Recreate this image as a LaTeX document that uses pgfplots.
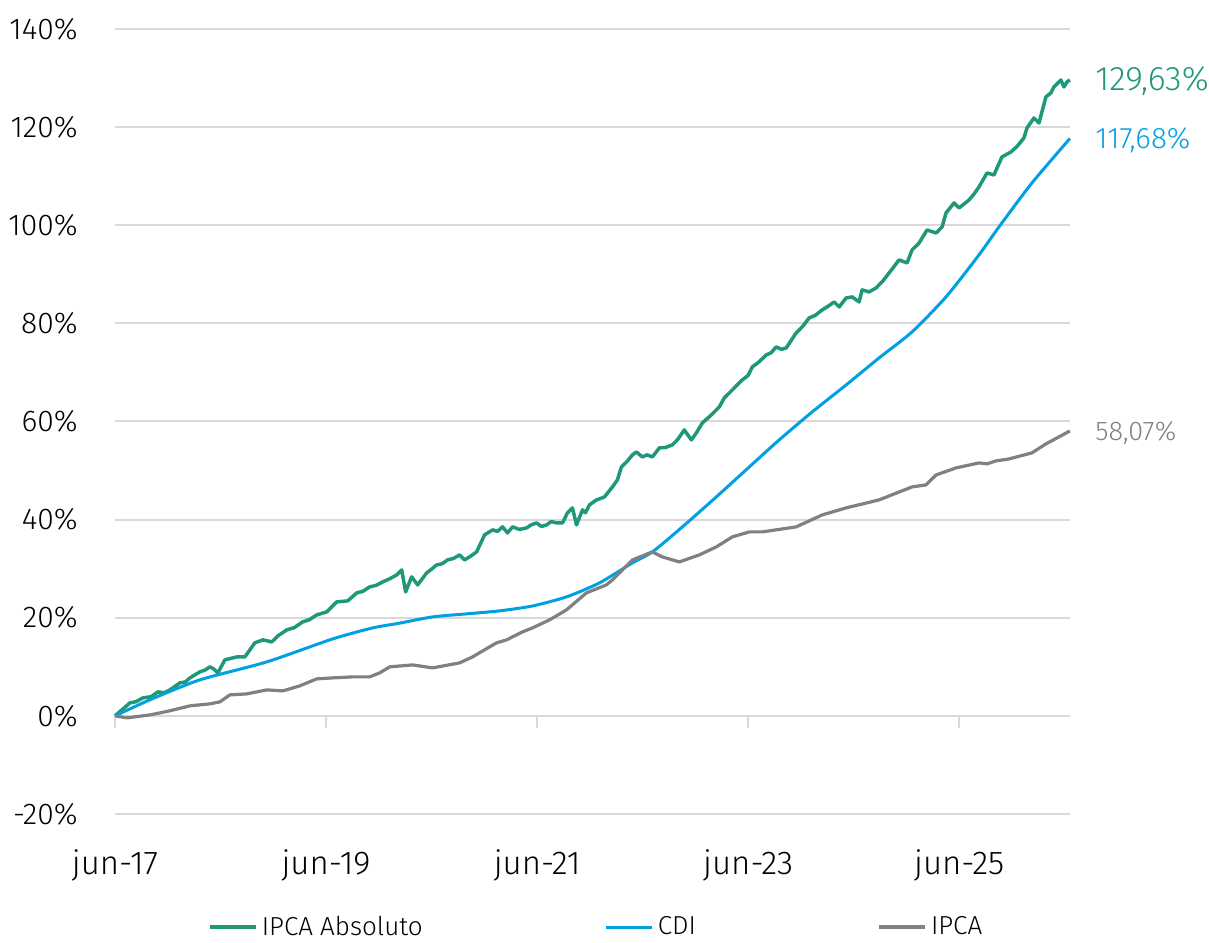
\documentclass[border=0pt]{standalone}
\usepackage{fontspec}
\IfFontExistsTF{Fira Sans Light}{\setmainfont{Fira Sans Light}}{\setmainfont{Fira Sans}}
\usepackage{pgfplots}
\pgfplotsset{compat=1.18}
\definecolor{cgreen}{RGB}{31,152,122}
\definecolor{cblue}{RGB}{0,160,227}
\definecolor{cgray}{RGB}{128,128,128}
\definecolor{cgrid}{RGB}{217,217,217}
\begin{document}
\begin{tikzpicture}
\path[use as bounding box] (-57.5pt,-64pt) rectangle (547pt,407pt);
\begin{axis}[
  at={(0,0)}, anchor=south west,
  scale only axis, width=477.5pt, height=392.5pt,
  xmin=0, xmax=108.6, ymin=-20, ymax=140,
  clip=false,
  axis x line*=middle, axis y line*=left,
  hide obscured x ticks=false,
  x axis line style={draw=none},
  y axis line style={draw=none},
  ytick={-20,0,20,40,60,80,100,120,140},
  xtick={0,24,48,72,96},
  xticklabels={jun-17,jun-19,jun-21,jun-23,jun-25},
  ymajorgrids, grid style={cgrid, line width=1pt},
  ytick style={draw=none},
  xtick style={cgrid, line width=1pt},
  xtick align=outside, major tick length=6pt,
  /pgf/number format/assume math mode=true,
  yticklabel={\pgfmathprintnumber{\tick}\%},
  yticklabel style={anchor=east, inner sep=0pt, xshift=-18.5pt, font=\fontsize{15}{17}\selectfont},
  xticklabel style={anchor=base, inner sep=0pt, yshift=-73.5pt, font=\fontsize{16.5}{18}\selectfont},
  legend columns=3,
  legend style={draw=none, fill=none, at={(0.505,0)}, anchor=center, yshift=-56.5pt,
    font=\fontsize{13}{15}\selectfont, inner sep=0pt,
    /tikz/every even column/.append style={column sep=89pt}},
  legend image code/.code={\draw[#1] (0pt,0pt) -- (23pt,0pt);},
]
\addplot[cgreen, line width=1.75pt, line join=round] coordinates {
(0,0)(1.7,2.65)(2.4,2.9)(3.18,3.67)(4.1,3.9)(4.88,4.89)(5.6,4.7)(6.25,5.30)(7.38,6.73)(8.0,6.9)(8.52,7.74)(9.65,8.97)(10.2,9.3)(10.79,9.99)(11.2,9.6)(11.70,8.76)(12.49,11.41)(13.86,12.02)(14.77,12.02)(15.90,14.88)(16.81,15.49)(17.83,15.08)(18.6,16.4)(19.54,17.53)(20.4,18.0)(21.35,19.16)(22.1,19.6)(22.94,20.58)(24.08,21.19)(25.22,23.23)(26.47,23.44)(27.49,25.07)(28.2,25.4)(28.96,26.29)(29.7,26.6)(30.44,27.31)(31.2,27.9)(32.03,28.73)(32.60,29.75)(33.05,25.27)(33.73,28.33)(34.42,26.70)(35.44,29.14)(36.0,29.9)(36.57,30.77)(37.2,31.0)(37.82,31.79)(38.5,32.1)(39.19,32.81)(39.75,31.79)(40.4,32.5)(41.12,33.42)(42.03,36.89)(42.94,37.91)(43.5,37.6)(44.07,38.52)(44.64,37.29)(45.21,38.52)(46.0,38.0)(46.80,38.31)(47.3,38.9)(47.93,39.33)(48.5,38.6)(49.07,38.92)(49.6,39.6)(50.20,39.33)(50.89,39.33)(51.45,41.37)(52.02,42.39)(52.48,38.92)(53.16,41.98)(53.5,41.4)(53.95,43.00)(54.75,44.02)(55.2,44.3)(55.66,44.63)(56.57,46.67)(57.13,48.09)(57.59,50.74)(58.2,51.8)(58.84,53.19)(59.29,53.80)(59.97,52.78)(60.5,53.2)(61.11,52.78)(61.90,54.62)(62.6,54.7)(63.38,55.23)(63.95,56.25)(64.74,58.28)(65.54,56.25)(66.11,57.67)(66.79,59.71)(67.81,61.34)(68.72,62.97)(69.29,64.81)(70.20,66.44)(71.33,68.47)(72.0,69.4)(72.47,71.12)(73.2,72.1)(74.06,73.57)(74.6,74.0)(75.19,75.20)(75.8,74.7)(76.33,75.00)(77.46,78.05)(78.2,79.4)(78.94,81.11)(79.6,81.6)(80.42,82.74)(81.1,83.5)(81.78,84.37)(82.35,83.35)(83.14,85.18)(83.83,85.39)(84.62,84.37)(84.96,86.82)(85.76,86.41)(86.55,87.22)(87.3,88.6)(88.03,90.28)(89.16,92.93)(90.07,92.32)(90.64,94.97)(91.44,96.39)(92.34,99.04)(93.37,98.43)(94.05,99.65)(94.50,102.51)(95.41,104.55)(95.98,103.53)(97.12,105.16)(97.7,106.4)(98.25,107.81)(99.16,110.66)(99.95,110.25)(100.86,113.92)(101.89,114.94)(102.6,116.1)(103.36,117.79)(103.71,119.83)(104.50,121.87)(105.07,120.85)(105.86,126.15)(106.43,126.97)(106.77,128.18)(107.56,129.61)(107.91,128.18)(108.25,129.20)(108.59,129.63)
};
\addlegendentry{IPCA Absoluto}
\addplot[cblue, line width=1.5pt, smooth, tension=0.4] coordinates {
(0,0)(4,3.3)(9.65,7.34)(17.26,11.00)(24.76,15.69)(29.30,17.93)(32.37,18.9)(36.12,20.18)(39.98,20.79)(43.73,21.40)(47.48,22.4)(51.34,24.25)(55.09,27.10)(58.84,31.18)(61.11,33.42)(64.52,38.52)(68.38,44.63)(72.13,50.74)(75.53,56.25)(79.28,61.95)(83.14,67.45)(86.89,72.96)(90.64,78.26)(94.50,85.39)(98.25,93.95)(100.52,99.65)(104.27,108.62)(108.59,117.68)
};
\addlegendentry{CDI}
\addplot[cgray, line width=1.6pt, line join=round] coordinates {
(0,0)(1.36,-0.41)(3.98,0.20)(5.91,0.9)(8.52,2.04)(10.79,2.45)(11.93,2.85)(13.06,4.28)(14.99,4.48)(17.26,5.30)(19.08,5.09)(21.01,6.11)(22.94,7.54)(24.76,7.74)(27.03,7.95)(28.96,7.95)(30.10,8.76)(31.24,9.99)(33.85,10.39)(36.12,9.78)(39.19,10.80)(40.66,12.02)(42.59,14.06)(43.39,14.88)(44.53,15.49)(46.34,17.12)(47.48,17.93)(49.41,19.56)(51.34,21.60)(53.61,25.07)(55.88,26.70)(56.57,27.72)(58.84,31.79)(61.11,33.42)(62.24,32.40)(64.17,31.38)(66.45,32.81)(68.38,34.44)(70.20,36.48)(72.13,37.50)(73.60,37.50)(77.46,38.52)(80.42,40.96)(83.14,42.39)(86.89,44.02)(90.64,46.67)(92.23,47.08)(93.37,49.11)(95.64,50.54)(98.25,51.56)(99.16,51.36)(100.18,51.97)(101.66,52.37)(104.27,53.60)(105.86,55.43)(107.34,56.86)(108.59,58.07)
};
\addlegendentry{IPCA}
\node[anchor=west, inner sep=0pt, xshift=12.5pt, text=cgreen, font=\fontsize{17}{19}\selectfont] at (axis cs:108.6,129.3) {129,63\%};
\node[anchor=west, inner sep=0pt, xshift=12.5pt, text=cblue, font=\fontsize{14.8}{17}\selectfont] at (axis cs:108.6,117.4) {117,68\%};
\node[anchor=west, inner sep=0pt, xshift=12.5pt, text=cgray, font=\fontsize{13.5}{15}\selectfont] at (axis cs:108.6,57.6) {58,07\%};
\end{axis}
\end{tikzpicture}
\end{document}
